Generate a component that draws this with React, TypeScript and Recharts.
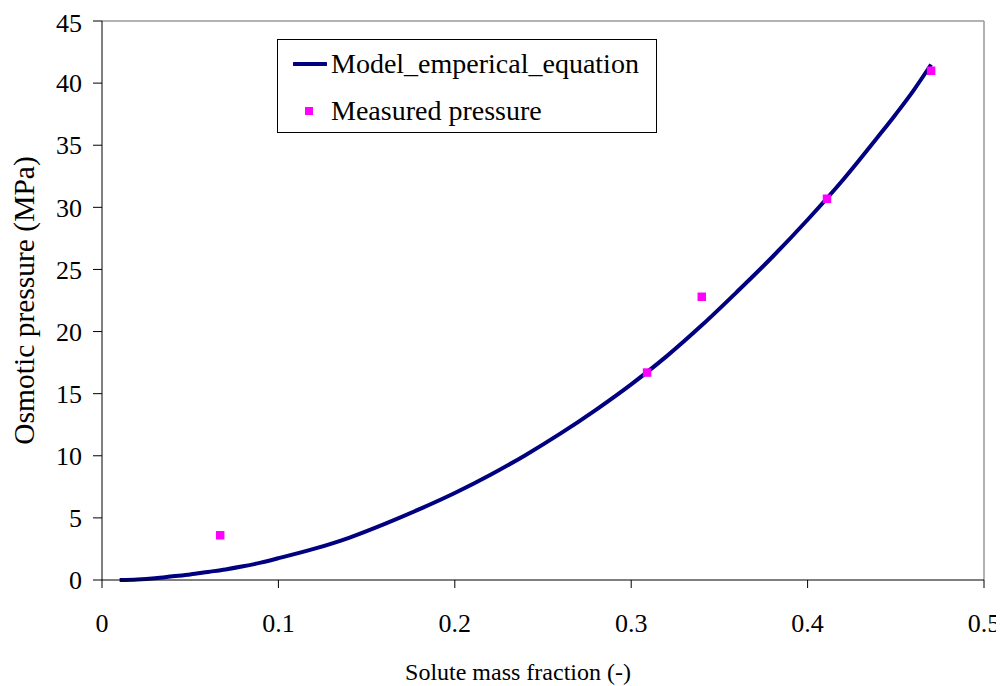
import { ComposedChart, Line, ReferenceLine, Scatter, XAxis, YAxis, ZAxis } from 'recharts'

// model curve
const modelX = [0.01, 0.02, 0.03, 0.04, 0.05, 0.06, 0.07, 0.08, 0.09, 0.1, 0.12, 0.14, 0.16, 0.18, 0.2, 0.22, 0.24, 0.26, 0.28, 0.3, 0.32, 0.34, 0.36, 0.38, 0.4, 0.42, 0.44, 0.45, 0.46, 0.47]
const modelY = [0.0, 0.05, 0.15, 0.3, 0.45, 0.65, 0.85, 1.1, 1.4, 1.75, 2.5, 3.4, 4.5, 5.7, 7.0, 8.45, 10.05, 11.8, 13.7, 15.75, 18.0, 20.5, 23.2, 26.0, 29.0, 32.2, 35.7, 37.5, 39.4, 41.5]

// measured points
const measuredX = [0.067, 0.309, 0.34, 0.411, 0.47]
const measuredY = [3.6, 16.7, 22.8, 30.7, 41.0]

const xTicks = [0, 0.1, 0.2, 0.3, 0.4, 0.5]
const yTicks = [0, 5, 10, 15, 20, 25, 30, 35, 40, 45]

const modelRows = modelX.map((x, i) => ({ x, y: modelY[i] }))
const measuredRows = measuredX.map((x, i) => ({ x, y: measuredY[i] }))

const FONT = '"Liberation Serif", "Times New Roman", serif'
const NAVY = '#000080'
const MAGENTA = '#ff00ff'

function LegendBox() {
  return (
    <div
      style={{
        position: 'absolute',
        left: 269,
        top: 31,
        width: 378,
        height: 92,
        border: '1px solid #000',
        background: '#fff',
        fontFamily: FONT,
        fontSize: 28,
        color: '#000',
      }}
    >
      <div style={{ position: 'absolute', left: 15, top: 4, display: 'flex', alignItems: 'center', height: 40 }}>
        <svg width={34} height={6} style={{ marginRight: 4 }}>
          <line x1={1} y1={3} x2={33} y2={3} stroke={NAVY} strokeWidth={4} strokeLinecap="round" />
        </svg>
        <span>Model_emperical_equation</span>
      </div>
      <div style={{ position: 'absolute', left: 15, top: 51, display: 'flex', alignItems: 'center', height: 40 }}>
        <svg width={34} height={10} style={{ marginRight: 4 }}>
          <rect x={12} y={1} width={8} height={8} fill={MAGENTA} />
        </svg>
        <span>Measured pressure</span>
      </div>
    </div>
  )
}

function XTitle(props: any) {
  const vb = props.viewBox
  return (
    <text
      x={vb.x + vb.width / 2 - 25}
      y={vb.y + vb.height - 6}
      textAnchor="middle"
      fill="#000"
      fontSize={24}
      fontFamily={FONT}
    >
      Solute mass fraction (-)
    </text>
  )
}

export default function App() {
  return (
    <div style={{ position: 'relative', width: 996, height: 678 }}>
      <ComposedChart
        width={996}
        height={678}
        margin={{ top: 13, right: 20, bottom: 0, left: 0 }}
        style={{ fontFamily: FONT }}
      >
        <XAxis
          type="number"
          dataKey="x"
          domain={[0, 0.5]}
          ticks={xTicks}
          height={106}
          tickSize={8}
          tickMargin={26}
          stroke="#000"
          tick={{ fill: '#000', fontSize: 26, fontFamily: FONT }}
          allowDataOverflow
          label={{ content: XTitle }}
        />
        <YAxis
          type="number"
          dataKey="y"
          domain={[0, 45]}
          ticks={yTicks}
          width={94}
          tickSize={9}
          tickMargin={11}
          stroke="#000"
          tick={{ fill: '#000', fontSize: 26, fontFamily: FONT }}
          label={{
            value: 'Osmotic pressure (MPa)',
            angle: -90,
            position: 'insideLeft',
            offset: 16,
            fill: '#000',
            fontSize: 29.5,
            fontFamily: FONT,
            style: { textAnchor: 'middle' },
          }}
        />
        <ZAxis range={[72, 72]} />
        <ReferenceLine y={45} stroke="#999" strokeWidth={1.5} />
        <ReferenceLine x={0.5} stroke="#999" strokeWidth={1.5} />
        <Line
          data={modelRows}
          dataKey="y"
          type="monotone"
          stroke={NAVY}
          strokeWidth={4}
          dot={false}
          activeDot={false}
          isAnimationActive={false}
        />
        <Scatter data={measuredRows} dataKey="y" fill={MAGENTA} shape="square" isAnimationActive={false} />
      </ComposedChart>
      <LegendBox />
    </div>
  )
}
